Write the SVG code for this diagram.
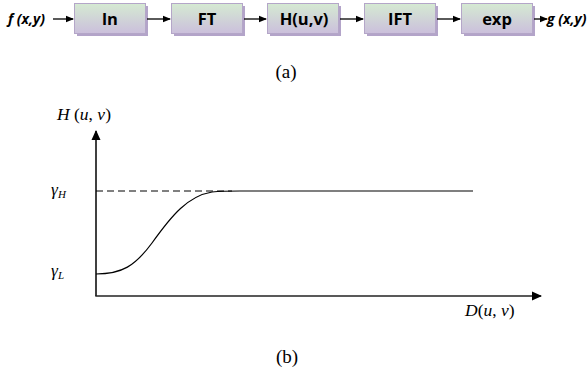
<svg xmlns="http://www.w3.org/2000/svg" width="587" height="378" viewBox="0 0 587 378">
<defs>
<linearGradient id="bg" x1="0" y1="0" x2="0" y2="1">
<stop offset="0" stop-color="#d5ead2"/>
<stop offset="1" stop-color="#cbbfdc"/>
</linearGradient>
<marker id="ah" markerWidth="8" markerHeight="8" refX="7" refY="4" orient="auto" markerUnits="userSpaceOnUse">
<path d="M0,0.8 L8,4 L0,7.2 Z" fill="#000"/>
</marker>
<marker id="ah2" markerWidth="10" markerHeight="10" refX="9" refY="5" orient="auto" markerUnits="userSpaceOnUse">
<path d="M0,0.5 L10,5 L0,9.5 Z" fill="#000"/>
</marker>
</defs>
<style>
.box{fill:url(#bg);stroke:#b4a6c8;stroke-width:1}
.sh{fill:#b3a4c9}
.bt{font-family:'Open Sans','Liberation Sans',sans-serif;font-weight:bold;font-size:16.5px;text-anchor:middle;fill:#000}
.io{font-family:'Open Sans','Liberation Sans',sans-serif;font-weight:bold;font-style:italic;font-size:14px;fill:#000}
.cap{font-family:'Liberation Serif','Times New Roman',serif;font-size:19px;text-anchor:middle;fill:#000}
.m{font-family:'Liberation Serif','Times New Roman',serif;font-style:italic;font-size:17.5px;fill:#000}
.conn{stroke:#000;stroke-width:1.3;fill:none}
</style>
<g id="n-ln"><rect class="sh" x="77" y="6" width="71" height="30"/><rect class="box" x="74.5" y="3.5" width="71" height="30"/><text class="bt" x="110" y="24.5">ln</text></g>
<g id="n-ft"><rect class="sh" x="174" y="6" width="71" height="30"/><rect class="box" x="171.5" y="3.5" width="71" height="30"/><text class="bt" x="207" y="24.5">FT</text></g>
<g id="n-h"><rect class="sh" x="270" y="6" width="71" height="30"/><rect class="box" x="267.5" y="3.5" width="71" height="30"/><text class="bt" x="304" y="24.5">H(u,v)</text></g>
<g id="n-ift"><rect class="sh" x="367" y="6" width="71" height="30"/><rect class="box" x="364.5" y="3.5" width="71" height="30"/><text class="bt" x="400" y="24.5">IFT</text></g>
<g id="n-exp"><rect class="sh" x="464" y="6" width="71" height="30"/><rect class="box" x="461.5" y="3.5" width="71" height="30"/><text class="bt" x="497" y="24.5">exp</text></g>
<g id="n-in"><text class="io" x="8" y="24">f (x,y)</text></g>
<g id="n-out"><text class="io" x="547" y="24">g (x,y)</text></g>
<g id="connectors">
<line class="conn" x1="53" y1="19" x2="73" y2="19" marker-end="url(#ah)"/>
<line class="conn" x1="147" y1="19" x2="170" y2="19" marker-end="url(#ah)"/>
<line class="conn" x1="244" y1="19" x2="266" y2="19" marker-end="url(#ah)"/>
<line class="conn" x1="340" y1="19" x2="363" y2="19" marker-end="url(#ah)"/>
<line class="conn" x1="437" y1="19" x2="460" y2="19" marker-end="url(#ah)"/>
<line class="conn" x1="534" y1="19" x2="547" y2="19" marker-end="url(#ah)"/>
</g>
<text class="cap" x="286" y="78">(a)</text>
<g id="plot">
<line x1="96" y1="296" x2="96" y2="131" stroke="#000" stroke-width="1.5" marker-end="url(#ah2)"/>
<line x1="95.3" y1="296" x2="541" y2="296" stroke="#222" stroke-width="1.5" marker-end="url(#ah2)"/>
<line x1="96" y1="191" x2="232" y2="191" stroke="#000" stroke-width="1" stroke-dasharray="7,4"/>
<path d="M96,274 C122,274 135,266 152,243 C172,215 188,196 212,192 C222,191 230,191 240,191 L473,191" fill="none" stroke="#000" stroke-width="1.2"/>
<text class="m" x="57" y="120">H <tspan font-style="normal">(</tspan>u<tspan font-style="normal">,</tspan> v<tspan font-style="normal">)</tspan></text>
<text class="m" x="51" y="195">γ<tspan font-size="11" dy="3">H</tspan></text>
<text class="m" x="51" y="276">γ<tspan font-size="11" dy="3">L</tspan></text>
<text class="m" x="465" y="316">D<tspan font-style="normal">(</tspan>u<tspan font-style="normal">,</tspan> v<tspan font-style="normal">)</tspan></text>
</g>
<text class="cap" x="287" y="363">(b)</text>
</svg>
